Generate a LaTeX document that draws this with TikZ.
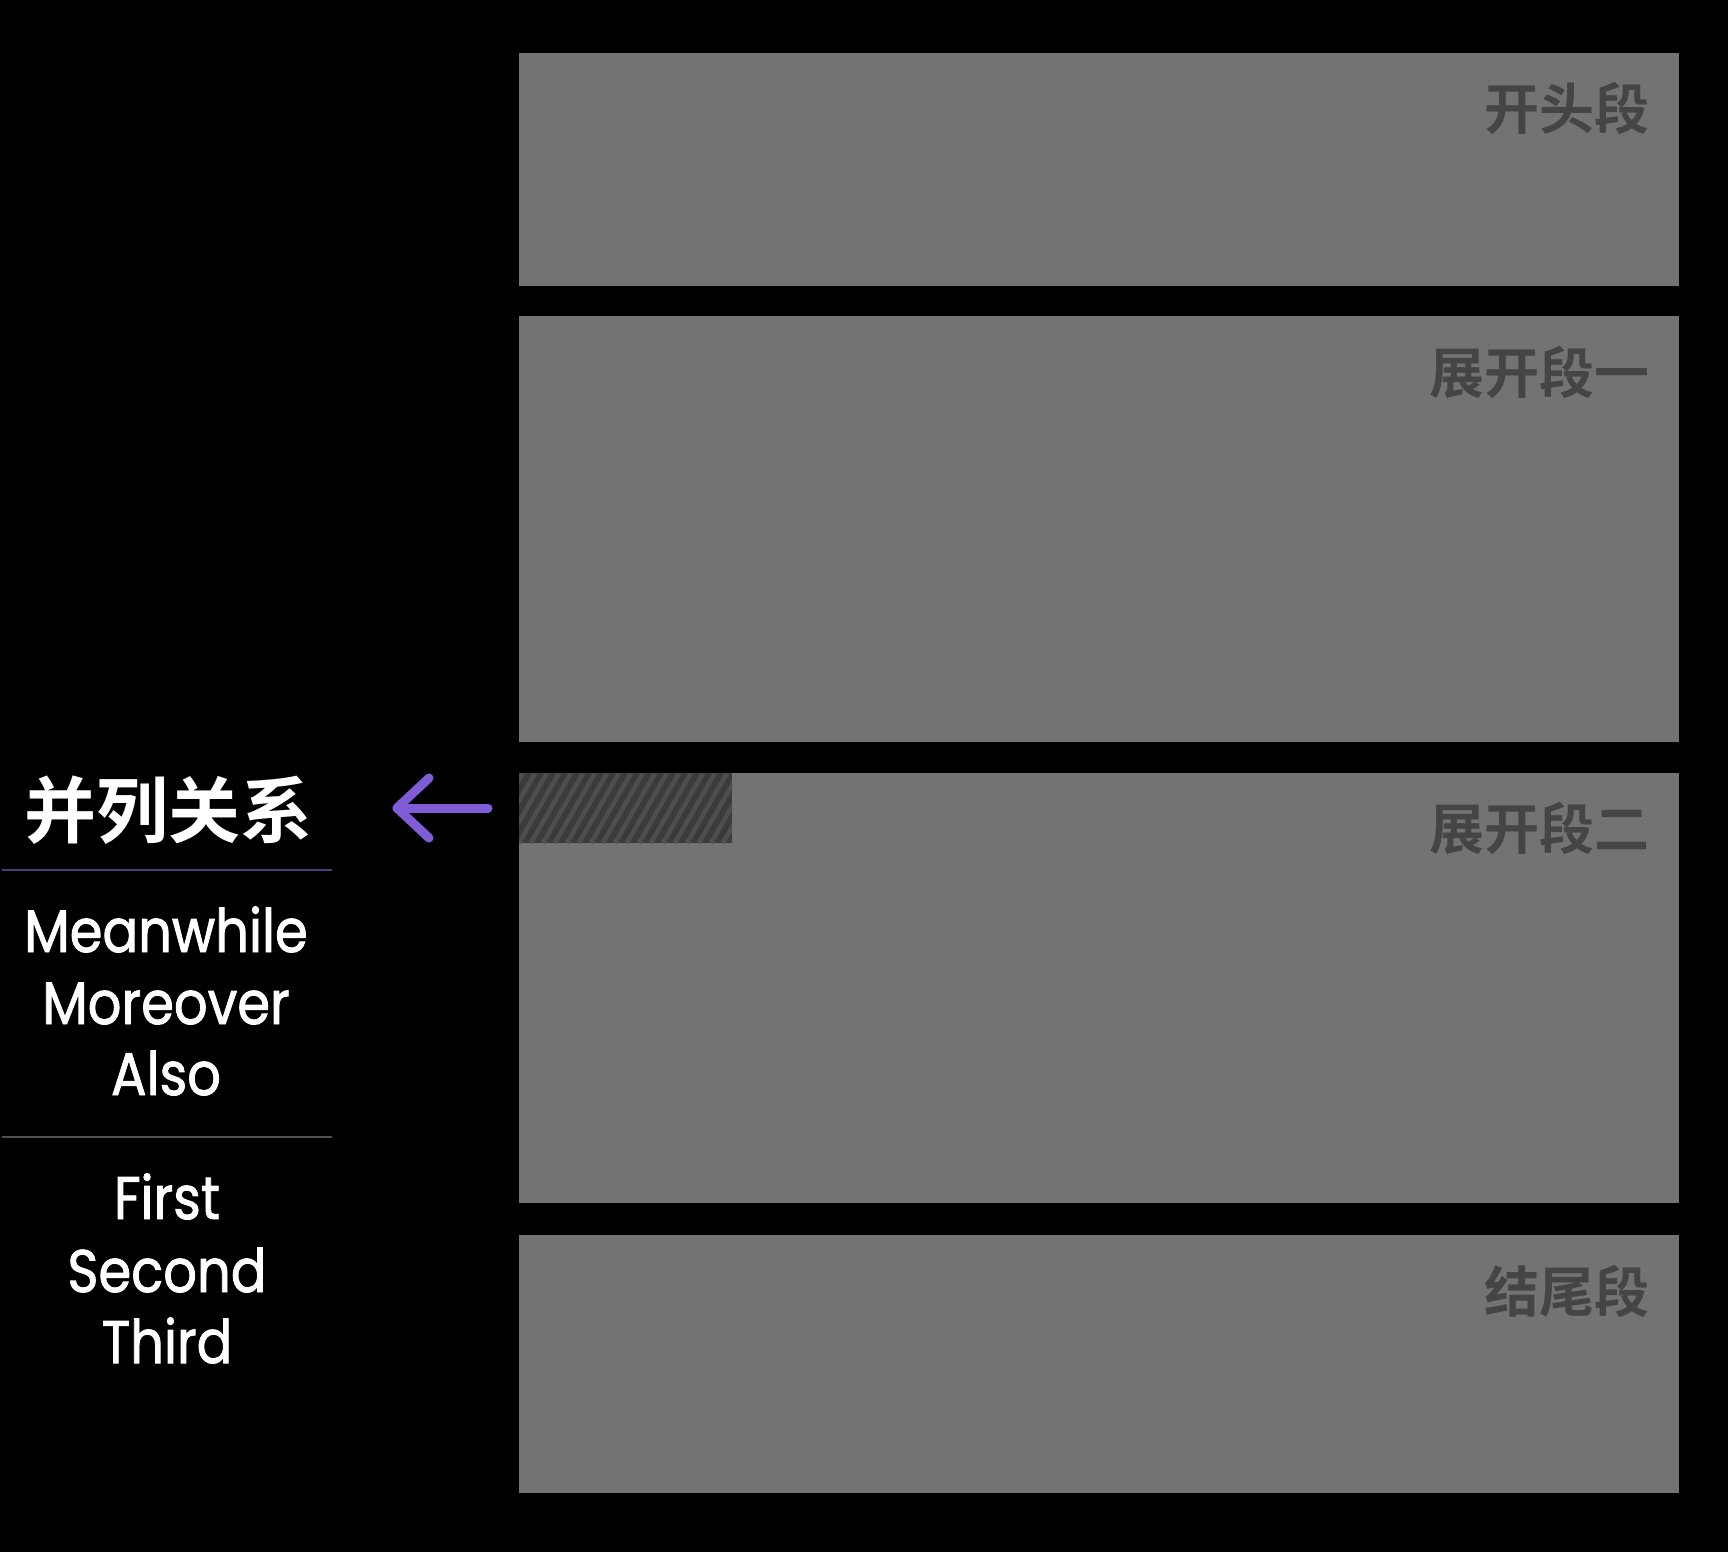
\documentclass[tikz,border=0pt]{standalone}
\usepackage{fontspec}
\setmainfont{Poppins}[FakeBold=1.6]
\newfontfamily\cjk{Noto Sans CJK SC Bold}
\definecolor{boxgray}{HTML}{737373}
\definecolor{labelgray}{HTML}{454545}
\definecolor{hatchbg}{HTML}{3B3B3B}
\definecolor{hatchln}{HTML}{4E4E4E}
\definecolor{arrowpurple}{RGB}{128,92,214}
\definecolor{linepurple}{HTML}{4A3D78}
\definecolor{linegray}{HTML}{505050}
\tikzset{
  partbox/.style={fill=boxgray, draw=none},
  partlabel/.style={anchor=base east, inner sep=0pt, text=labelgray, font=\cjk\fontsize{55}{60}\selectfont},
  wordlabel/.style={anchor=base, inner sep=0pt, text=white, xscale=0.88, transform shape, font=\fontsize{60}{66}\selectfont},
}
\begin{document}
\begin{tikzpicture}[x=1pt,y=-1pt]
\fill[black] (0,0) rectangle (1728,1552);
\useasboundingbox (0,0) rectangle (1728,1552);
% boxes
\fill[partbox] (519,53) rectangle (1679,286);
\fill[partbox] (519,316) rectangle (1679,742);
\fill[partbox] (519,773) rectangle (1679,1203);
\fill[partbox] (519,1235) rectangle (1679,1493);
% hatch
\fill[hatchbg] (519,773) rectangle (732,843);
\begin{scope}
\clip (519,773) rectangle (732,843);
\foreach \x in {471,483,...,740} {
  \draw[hatchln, line width=4.5pt] (\x,843) -- ({\x+40},773);
}
\end{scope}
% right labels
\node[partlabel] (l1) at (1650,129) {开头段};
\node[partlabel] (l2) at (1650,393) {展开段一};
\node[partlabel] (l3) at (1650,849) {展开段二};
\node[partlabel] (l4) at (1650,1312) {结尾段};
% header
\node[anchor=base, inner sep=0pt, text=white, font=\cjk\fontsize{72}{80}\selectfont] (head) at (168,837) {并列关系};
% arrow
\coordinate (tip) at (397,808);
\coordinate (tail) at (488,808);
\coordinate (wu) at (429,778);
\coordinate (wd) at (429,838);
\draw[arrowpurple, line width=9pt, line cap=round, line join=round] (tail) -- (tip);
\draw[arrowpurple, line width=9pt, line cap=round, line join=round] (wu) -- (tip) -- (wd);
% lines
\coordinate (pl1) at (2,870);
\coordinate (pl2) at (332,870);
\draw[linepurple, line width=2.5pt] (pl1) -- (pl2);
\coordinate (gl1) at (2,1137);
\coordinate (gl2) at (332,1137);
\draw[linegray, line width=2.5pt] (gl1) -- (gl2);
% words
\node[wordlabel] (w1) at (166,952) {Meanwhile};
\node[wordlabel] (w2) at (166,1024) {Moreover};
\node[wordlabel] (w3) at (166,1095) {Also};
\node[wordlabel] (w4) at (167,1219) {First};
\node[wordlabel] (w5) at (167,1292) {Second};
\node[wordlabel] (w6) at (167,1363) {Third};
\end{tikzpicture}
\end{document}
